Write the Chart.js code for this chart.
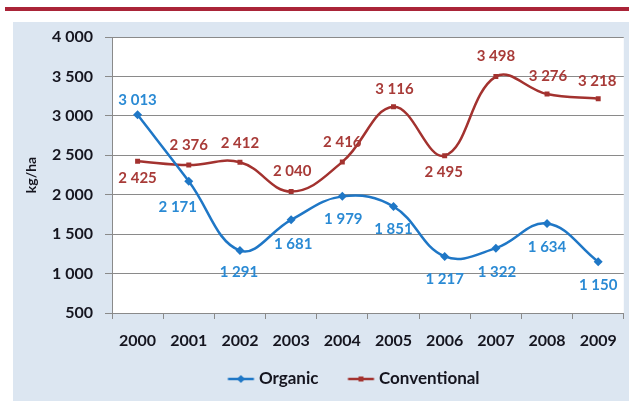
<!DOCTYPE html>
<html>
<head>
<meta charset="utf-8">
<script src="https://cdn.jsdelivr.net/npm/chart.js@4.4.0/dist/chart.umd.min.js"></script>
<style>
  html, body { margin: 0; padding: 0; background: #fff; }
  #wrap { width: 629px; height: 401px; }
</style>
</head>
<body>
<div id="wrap"><canvas id="yieldChart" width="629" height="401"></canvas></div>
<script>
// data
const years = ['2000', '2001', '2002', '2003', '2004', '2005', '2006', '2007', '2008', '2009'];
const organic = [3013, 2171, 1291, 1681, 1979, 1851, 1217, 1322, 1634, 1150];
const conventional = [2425, 2376, 2412, 2040, 2416, 3116, 2495, 3498, 3276, 3218];
const yMin = 500, yMax = 4000, yStep = 500;

// where each value label sits relative to its point [dx, dy]
const organicLabelOffsets = [[0, -15], [-11, 26], [-1, 22], [2, 24], [1, 23], [0, 23], [0, 23], [1, 24], [0, 24], [0, 23]];
const conventionalLabelOffsets = [[0, 17], [0, -20], [0, -19], [1, -20], [0, -20], [1, -18], [-1, 16], [0, -20], [1, -18], [-1, -18]];

const BLUE = '#1f77c6';
const BLUE_TXT = '#2a8ad4';
const RED = '#a3322f';
const RED_TXT = '#a83b38';
const INK = '#15151f';
const FONT = 'Lato';

// 천 단위 공백 구분 (3 013)
const fmtN = v => String(v).replace(/\B(?=(\d{3})+(?!\d))/g, ' ');

// legend icon: line with marker; wider than the legend box so the text sits close
function legendIcon(color, style) {
  const c = document.createElement('canvas');
  c.width = 56; c.height = 12;
  const g = c.getContext('2d');
  g.strokeStyle = color; g.lineWidth = 2.5;
  g.beginPath(); g.moveTo(26.5, 6); g.lineTo(52.5, 6); g.stroke();
  g.fillStyle = color;
  if (style === 'diamond') {
    g.beginPath(); g.moveTo(39.5, 2); g.lineTo(43.5, 6); g.lineTo(39.5, 10); g.lineTo(35.5, 6); g.closePath(); g.fill();
  } else {
    g.fillRect(37, 3.5, 5, 5);
  }
  return c;
}
const legendIcons = [legendIcon(BLUE, 'diamond'), legendIcon(RED, 'square')];

const backgroundPlugin = {
  id: 'bg',
  beforeDraw(chart) {
    const { ctx, chartArea } = chart;
    ctx.save();
    ctx.fillStyle = '#ffffff';
    ctx.fillRect(0, 0, chart.width, chart.height);
    ctx.fillStyle = '#aa2438';
    ctx.fillRect(5, 7, chart.width - 5, 4);
    ctx.fillStyle = '#dce6f1';
    ctx.fillRect(13, 22, chart.width - 13, chart.height - 22);
    ctx.fillStyle = '#ffffff';
    ctx.fillRect(chartArea.left, chartArea.top, chartArea.right - chartArea.left, chartArea.bottom - chartArea.top);
    ctx.restore();
  }
};

const valueLabelPlugin = {
  id: 'valueLabels',
  afterDatasetsDraw(chart) {
    const { ctx } = chart;
    const offsets = [organicLabelOffsets, conventionalLabelOffsets];
    const colors = [BLUE_TXT, RED_TXT];
    ctx.save();
    ctx.font = `bold 15px ${FONT}`;
    ctx.textAlign = 'center';
    ctx.textBaseline = 'middle';
    chart.data.datasets.forEach((ds, i) => {
      const meta = chart.getDatasetMeta(i);
      ctx.fillStyle = colors[i];
      meta.data.forEach((pt, j) => {
        const [dx, dy] = offsets[i][j];
        ctx.fillText(fmtN(ds.data[j]), pt.x + dx, pt.y + dy);
      });
    });
    ctx.restore();
  }
};

// legend sits a bit left of the plot centre, like the original
const legendShiftPlugin = {
  id: 'legendShift',
  afterLayout(chart) {
    const lg = chart.legend;
    if (!lg) return;
    const pad = lg.options.labels.padding;
    const dx = 349 - (lg.left + pad + lg.right) / 2;
    lg.left += dx;
    lg.right += dx;
  }
};

const tickFont = { family: FONT, size: 16, weight: 'bold' };

new Chart(document.getElementById('yieldChart'), {
  type: 'line',
  data: {
    labels: years,
    datasets: [
      {
        label: 'Organic',
        data: organic,
        borderColor: BLUE,
        backgroundColor: BLUE,
        borderWidth: 2.5,
        tension: 0.4,
        pointStyle: 'rectRot',
        pointRadius: 4.5,
        pointBorderWidth: 0,
        pointBackgroundColor: BLUE
      },
      {
        label: 'Conventional',
        data: conventional,
        borderColor: RED,
        backgroundColor: RED,
        borderWidth: 2.5,
        tension: 0.4,
        pointStyle: 'rect',
        pointRadius: 3.5,
        pointBorderWidth: 0,
        pointBackgroundColor: RED
      }
    ]
  },
  options: {
    responsive: false,
    animation: false,
    devicePixelRatio: 1,
    layout: { padding: { left: 14, right: 4, top: 37, bottom: 3.5 } },
    scales: {
      x: {
        offset: true,
        grid: { offset: true, drawOnChartArea: false, tickLength: 6, color: '#8a8a8a' },
        border: { color: '#8a8a8a' },
        ticks: { font: tickFont, color: INK, padding: 12, maxRotation: 0, autoSkip: false },
        afterFit: s => { s.height = 47.5; }
      },
      y: {
        min: yMin,
        max: yMax,
        ticks: { stepSize: yStep, callback: v => fmtN(v), font: tickFont, color: INK, padding: 12 },
        grid: { color: '#8a8a8a', tickLength: 7 },
        border: { color: '#8a8a8a' },
        title: {
          display: true,
          text: 'kg/ha',
          font: { family: FONT, size: 14, weight: 'bold' },
          color: INK,
          padding: { top: 9, bottom: 0 }
        },
        afterFit: s => { s.width = 98; }
      }
    },
    plugins: {
      legend: {
        position: 'bottom',
        labels: {
          usePointStyle: true,
          pointStyleWidth: 42,
          padding: 10,
          font: { family: FONT, size: 17, weight: 'bold' },
          color: INK,
          generateLabels: chart => {
            const items = Chart.defaults.plugins.legend.labels.generateLabels(chart);
            items.forEach((it, i) => { it.pointStyle = legendIcons[i]; });
            return items;
          }
        }
      },
      tooltip: { enabled: false }
    }
  },
  plugins: [backgroundPlugin, valueLabelPlugin, legendShiftPlugin]
});
</script>
</body>
</html>
